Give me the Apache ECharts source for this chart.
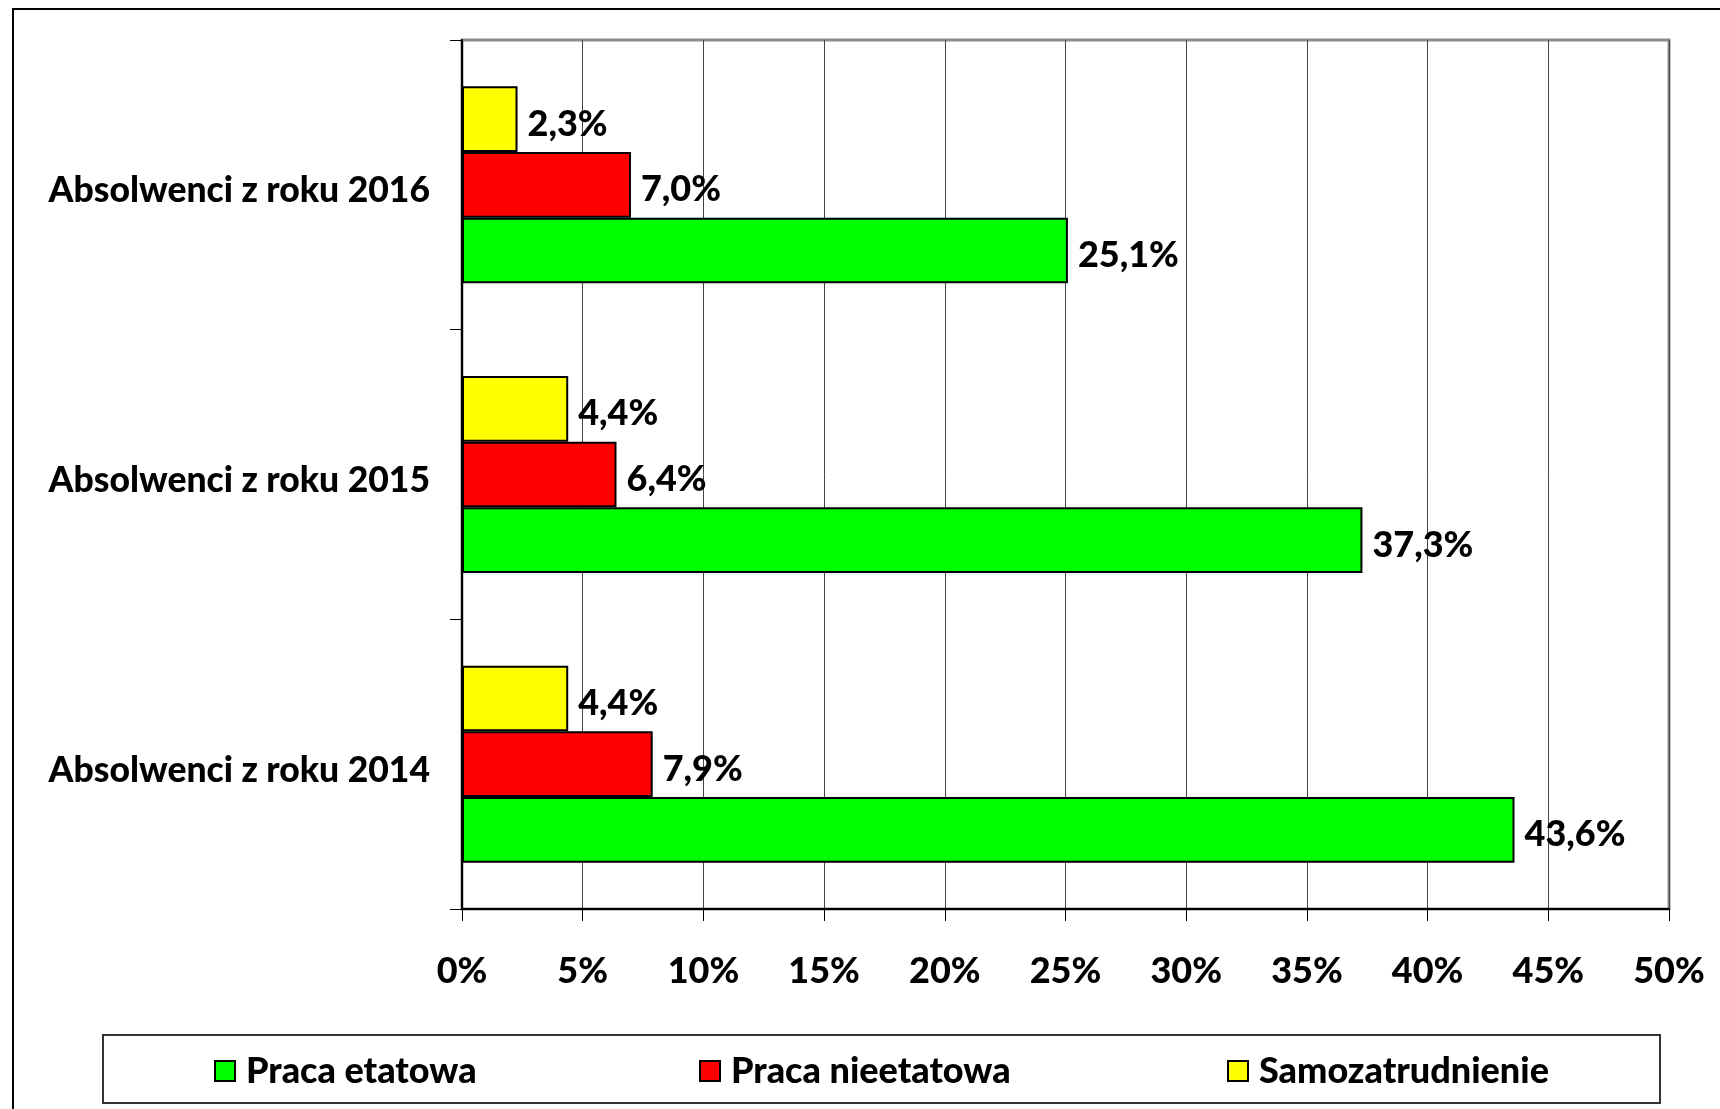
<!DOCTYPE html>
<html>
<head>
<meta charset="utf-8">
<script src="https://cdn.jsdelivr.net/npm/echarts@6/dist/echarts.min.js"></script>
<style>
html,body{margin:0;padding:0;background:#fff;}
#c{width:1720px;height:1109px;}
</style>
</head>
<body>
<div id="c"></div>
<script>
const categories = ['Absolwenci z roku 2014', 'Absolwenci z roku 2015', 'Absolwenci z roku 2016'];
const seriesNames = ['Praca etatowa', 'Praca nieetatowa', 'Samozatrudnienie'];
const pracaEtatowa = [43.6, 37.3, 25.1];
const pracaNieetatowa = [7.9, 6.4, 7.0];
const samozatrudnienie = [4.4, 4.4, 2.3];
const colors = ['#00FF00', '#FF0000', '#FFFF00'];

const FONT = 'Lato';
const FW = 900;
const FS = 36;
const chart = echarts.init(document.getElementById('c'));
const fmt = v => v.toFixed(1).replace('.', ',') + '%';
const mk = (name, data, color) => ({
  name, type: 'bar', data,
  barCategoryGap: '32%', barGap: '0%',
  itemStyle: { color, borderColor: '#000', borderWidth: 2 },
  label: { show: true, position: 'right', distance: 10, offset: [0, 5], formatter: p => fmt(p.value),
    fontFamily: FONT, fontWeight: FW, fontSize: FS, color: '#000' }
});
const legendItem = (name, left) => ({
  data: [name], left, top: 1048, itemWidth: 20, itemHeight: 20, itemGap: 0,
  icon: 'rect', selectedMode: false,
  itemStyle: { borderColor: '#000', borderWidth: 2 },
  textStyle: { fontFamily: FONT, fontWeight: FW, fontSize: FS, color: '#000', padding: [0,0,0,6] }
});
chart.setOption({
  animation: false,
  backgroundColor: '#fff',
  grid: { left: 462, right: 51, top: 40, bottom: 200, show: true, borderColor: '#8c8c8c', borderWidth: 3 },
  xAxis: {
    type: 'value', min: 0, max: 50, interval: 5,
    axisLine: { show: true, lineStyle: { color: '#000', width: 2 } },
    axisTick: { show: true, length: 12, lineStyle: { color: '#000', width: 1 } },
    splitLine: { show: true, lineStyle: { color: '#444', width: 1 } },
    axisLabel: { formatter: '{value}%', margin: 44, fontFamily: FONT, fontWeight: FW, fontSize: FS, color: '#000' }
  },
  yAxis: {
    type: 'category', data: categories,
    axisLine: { show: true, lineStyle: { color: '#000', width: 2 } },
    axisTick: { show: true, length: 12, lineStyle: { color: '#000', width: 1 } },
    axisLabel: { margin: 32, formatter: v => '{a|' + v + '}',
      rich: { a: { padding: [12, 0, 0, 0], fontFamily: FONT, fontWeight: FW, fontSize: 35.5, color: '#000' } },
      fontFamily: FONT, fontWeight: FW, fontSize: 35.5, color: '#000' }
  },
  legend: [legendItem(seriesNames[0], 209), legendItem(seriesNames[1], 694), legendItem(seriesNames[2], 1222)],
  graphic: [
    { type: 'rect', shape: { x: 13, y: 9, width: 1800, height: 1200 }, style: { fill: 'none', stroke: '#000', lineWidth: 2 }, silent: true },
    { type: 'rect', shape: { x: 103, y: 1035, width: 1557, height: 68 }, style: { fill: 'none', stroke: '#333', lineWidth: 2 }, silent: true }
  ],
  series: [
    mk(seriesNames[2], samozatrudnienie, colors[2]),
    mk(seriesNames[1], pracaNieetatowa, colors[1]),
    mk(seriesNames[0], pracaEtatowa, colors[0])
  ]
});
</script>
</body>
</html>
